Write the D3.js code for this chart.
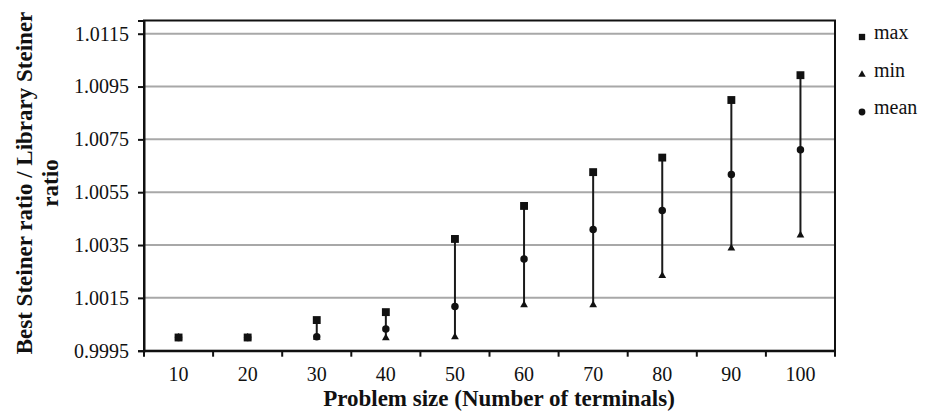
<!DOCTYPE html>
<html><head><meta charset="utf-8">
<script src="https://cdn.jsdelivr.net/npm/d3@7"></script>
<style>body{margin:0;background:#fff}svg{display:block}</style>
</head><body><svg id="c" width="930" height="417"></svg>
<script>
const categories = ["10","20","30","40","50","60","70","80","90","100"];
const maxVals  = [1.0000, 1.0000, 1.00066, 1.00096, 1.00373, 1.00498, 1.00626, 1.00681, 1.00899, 1.00993];
const minVals  = [1.0000, 1.0000, 1.0000, 0.99998, 1.00002, 1.00123, 1.00123, 1.00234, 1.00338, 1.00387];
const meanVals = [1.0000, 1.0000, 1.00003, 1.00032, 1.00117, 1.00297, 1.00409, 1.00481, 1.00617, 1.00711];
const yTicks = [0.9995, 1.0015, 1.0035, 1.0055, 1.0075, 1.0095, 1.0115];
const legendItems = ["max","min","mean"];

const svg = d3.select("#c");
const L = 144, R = 835, T = 20.5, B = 350.7;
const x = d3.scaleBand().domain(categories).range([L, R]);
const y = d3.scaleLinear().domain([0.9995, 1.012]).range([B, T]);
const font = "'Liberation Serif','Times New Roman',serif";

// gridlines
svg.append("g").selectAll("line").data(yTicks.slice(1)).join("line")
  .attr("x1", L).attr("x2", R).attr("y1", d => y(d)).attr("y2", d => y(d))
  .attr("stroke", "#a8a8a8").attr("stroke-width", 2);

// frame
svg.append("rect").attr("x", L).attr("y", T).attr("width", R - L).attr("height", B - T)
  .attr("fill", "none").attr("stroke", "#111").attr("stroke-width", 2);

// y axis
const yAxis = svg.append("g").attr("transform", `translate(${L},0)`)
  .call(d3.axisLeft(y).tickValues(yTicks).tickFormat(d3.format(".4f")).tickSize(6).tickPadding(9));
yAxis.select(".domain").attr("stroke", "#111").attr("stroke-width", 2);
yAxis.selectAll(".tick line").attr("stroke", "#111").attr("stroke-width", 2);
yAxis.selectAll("text").attr("font-family", font).attr("font-size", 20).attr("fill", "#111");

// x axis
const xAxis = svg.append("g").attr("transform", `translate(0,${B})`)
  .call(d3.axisBottom(x).tickSize(0).tickPadding(16));
xAxis.select(".domain").attr("stroke", "#111").attr("stroke-width", 2);
xAxis.selectAll("text").attr("font-family", font).attr("font-size", 20).attr("fill", "#111");
// boundary ticks
const bounds = categories.map(c => x(c)).concat([R]);
svg.append("g").selectAll("line").data(bounds).join("line")
  .attr("x1", d => d).attr("x2", d => d).attr("y1", B).attr("y2", B + 6)
  .attr("stroke", "#111").attr("stroke-width", 2);

const cx = c => x(c) + x.bandwidth() / 2;

// error bars
svg.append("g").selectAll("line").data(categories).join("line")
  .attr("x1", cx).attr("x2", cx)
  .attr("y1", (c, i) => y(minVals[i])).attr("y2", (c, i) => y(maxVals[i]))
  .attr("stroke", "#1a1a1a").attr("stroke-width", 2);

// markers (min, mean, then max on top)
const sq = d3.symbol().type(d3.symbolSquare).size(62);
const tri = d3.symbol().type(d3.symbolTriangle).size(26);
const circ = d3.symbol().type(d3.symbolCircle).size(44);
svg.append("g").selectAll("path").data(categories).join("path")
  .attr("d", tri).attr("fill", "#111")
  .attr("transform", (c, i) => `translate(${cx(c)},${y(minVals[i])})`);
svg.append("g").selectAll("path").data(categories).join("path")
  .attr("d", circ).attr("fill", "#111")
  .attr("transform", (c, i) => `translate(${cx(c)},${y(meanVals[i])})`);
svg.append("g").selectAll("path").data(categories).join("path")
  .attr("d", sq).attr("fill", "#111")
  .attr("transform", (c, i) => `translate(${cx(c)},${y(maxVals[i])})`);

// legend
const symbols = [d3.symbol().type(d3.symbolSquare).size(40), d3.symbol().type(d3.symbolTriangle).size(24), d3.symbol().type(d3.symbolCircle).size(36)];
const lg = svg.append("g").selectAll("g").data(legendItems).join("g")
  .attr("transform", (d, i) => `translate(862,${37 + i * 37.5})`);
lg.append("path").attr("d", (d, i) => symbols[i]()).attr("fill", "#111");
lg.append("text").attr("x", 12).attr("y", 0).attr("dy", "0.1em")
  .attr("font-family", font).attr("font-size", 20).attr("fill", "#111").text(d => d);

// axis titles
svg.append("text").attr("x", 499).attr("y", 406).attr("text-anchor", "middle")
  .attr("font-family", font).attr("font-size", 23).attr("font-weight", "bold").attr("fill", "#111")
  .text("Problem size (Number of terminals)");
const yt = svg.append("text").attr("transform", "translate(0,183) rotate(-90)")
  .attr("text-anchor", "middle").attr("font-family", font).attr("font-size", 23)
  .attr("font-weight", "bold").attr("fill", "#111");
yt.append("tspan").attr("x", 0).attr("y", 32).text("Best Steiner ratio / Library Steiner");
yt.append("tspan").attr("x", 0).attr("y", 58).text("ratio");
</script></body></html>
